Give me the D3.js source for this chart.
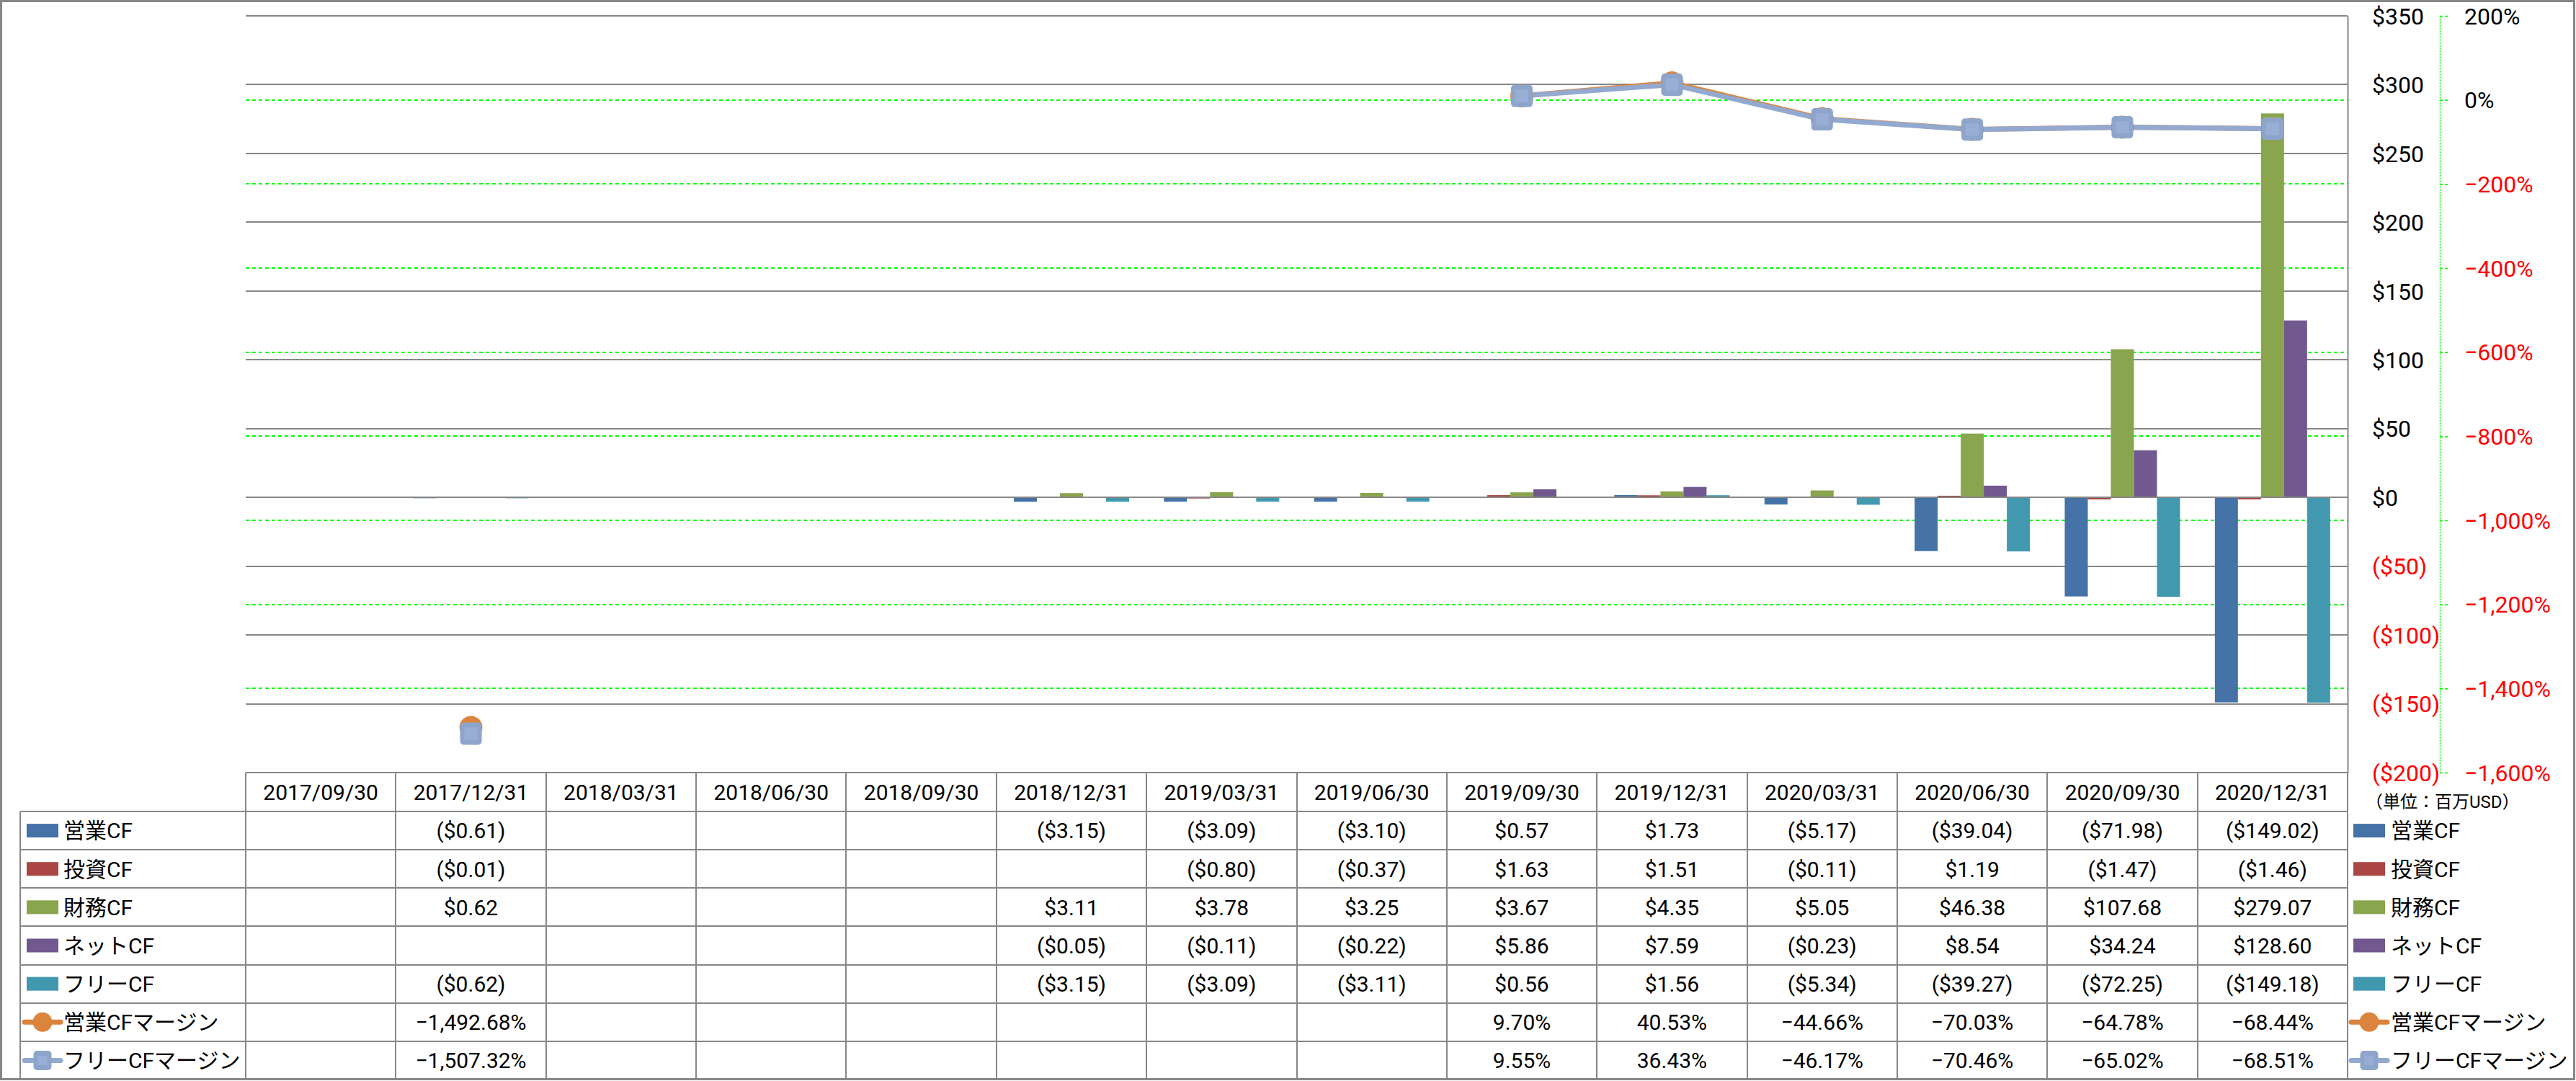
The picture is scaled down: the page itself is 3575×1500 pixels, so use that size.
<!DOCTYPE html>
<html>
<head>
<meta charset="utf-8">
<script src="https://cdn.jsdelivr.net/npm/d3@7"></script>
<style>
  html, body { margin: 0; padding: 0; background: #fff; }
  svg { display: block; }
  text { font-family: Roboto, "Noto Sans CJK JP", sans-serif; }
</style>
</head>
<body>
<svg id="chart" width="3575" height="1500"></svg>
<script>
// ---------------- DATA ----------------
const categories = ["2017/09/30","2017/12/31","2018/03/31","2018/06/30","2018/09/30","2018/12/31","2019/03/31","2019/06/30","2019/09/30","2019/12/31","2020/03/31","2020/06/30","2020/09/30","2020/12/31"];

const opCF   = [null, -0.61, null, null, null, -3.15, -3.09, -3.10, 0.57, 1.73, -5.17, -39.04, -71.98, -149.02];
const invCF  = [null, -0.01, null, null, null, null, -0.80, -0.37, 1.63, 1.51, -0.11, 1.19, -1.47, -1.46];
const finCF  = [null, 0.62, null, null, null, 3.11, 3.78, 3.25, 3.67, 4.35, 5.05, 46.38, 107.68, 279.07];
const netCF  = [null, null, null, null, null, -0.05, -0.11, -0.22, 5.86, 7.59, -0.23, 8.54, 34.24, 128.60];
const freeCF = [null, -0.62, null, null, null, -3.15, -3.09, -3.11, 0.56, 1.56, -5.34, -39.27, -72.25, -149.18];

const opMargin   = [null, -1492.68, null, null, null, null, null, null, 9.70, 40.53, -44.66, -70.03, -64.78, -68.44];
const freeMargin = [null, -1507.32, null, null, null, null, null, null, 9.55, 36.43, -46.17, -70.46, -65.02, -68.51];

const barSeriesNames  = ["営業CF", "投資CF", "財務CF", "ネットCF", "フリーCF"];
const barSeriesValues = [opCF, invCF, finCF, netCF, freeCF];
const barColors = ["#4572A7", "#AA4643", "#89A54E", "#71588F", "#4198AF"];

const lineSeriesNames  = ["営業CFマージン", "フリーCFマージン"];
const lineSeriesValues = [opMargin, freeMargin];
const lineColors = ["#DB843D", "#93A9CF"];

const leftTicks  = [350, 300, 250, 200, 150, 100, 50, 0, -50, -100, -150, -200];
const rightTicks = [200, 0, -200, -400, -600, -800, -1000, -1200, -1400, -1600];
const unitLabel = "（単位：百万USD）";

// ---------------- LAYOUT ----------------
const svg = d3.select("#chart");
const plotL = 341, plotR = 3258, plotT = 22, plotB = 1072;
const tableL = 28, tableB = 1498, headerB = 1126;
const nRows = barSeriesNames.length + lineSeriesNames.length;
const rowH = (tableB - headerB) / nRows;
const gridGray = "#878787";
const FONT = 30;

const y = d3.scaleLinear().domain([-200, 350]).range([plotB, plotT]);
const y2 = d3.scaleLinear().domain([-1600, 200]).range([plotB, plotT]);
const xCol = d3.scaleBand().domain(categories).range([plotL, plotR]);
const gap = 0.2321;
const x0 = d3.scaleBand().domain(categories).range([plotL, plotR]).paddingInner(gap).paddingOuter(gap / 2);
const x1 = d3.scaleBand().domain(d3.range(barSeriesNames.length)).range([0, x0.bandwidth()]);
const cx = c => xCol(c) + xCol.bandwidth() / 2;
const crisp = v => Math.round(v);

// outer chart border
svg.append("rect").attr("x", 1.5).attr("y", 1.5).attr("width", 3571).attr("height", 1496)
  .attr("fill", "#fff").attr("stroke", "#868686").attr("stroke-width", 3);

// green dashed gridlines (secondary axis)
svg.append("g").attr("shape-rendering", "crispEdges").selectAll("line").data(rightTicks).join("line")
  .attr("x1", plotL).attr("x2", plotR)
  .attr("y1", d => crisp(y2(d))).attr("y2", d => crisp(y2(d)))
  .attr("stroke", "#00FF00").attr("stroke-width", 2).attr("stroke-dasharray", "5,4");

// gray gridlines (primary axis)
svg.append("g").attr("shape-rendering", "crispEdges").selectAll("line").data(leftTicks).join("line")
  .attr("x1", plotL).attr("x2", plotR)
  .attr("y1", d => crisp(y(d))).attr("y2", d => crisp(y(d)))
  .attr("stroke", gridGray).attr("stroke-width", 2);

// bars
const barG = svg.append("g");
barSeriesValues.forEach((vals, si) => {
  barG.append("g").selectAll("rect")
    .data(categories.map((c, i) => ({ c, v: vals[i] })).filter(d => d.v != null))
    .join("rect")
    .attr("x", d => x0(d.c) + x1(si))
    .attr("width", x1.bandwidth())
    .attr("y", d => y(Math.max(0, d.v)))
    .attr("height", d => Math.abs(y(d.v) - y(0)))
    .attr("fill", barColors[si]);
});

// zero axis line on top of bars
svg.append("line").attr("shape-rendering", "crispEdges")
  .attr("x1", plotL).attr("x2", plotR).attr("y1", crisp(y(0))).attr("y2", crisp(y(0)))
  .attr("stroke", gridGray).attr("stroke-width", 2);

// primary axis (labels only, right side)
const fmtMoneyTick = v => v < 0 ? "($" + Math.abs(v) + ")" : "$" + v;
const axL = svg.append("g").attr("transform", `translate(${plotR},0)`)
  .call(d3.axisRight(y).tickValues(leftTicks).tickSize(0).tickPadding(34).tickFormat(fmtMoneyTick));
axL.select(".domain").attr("stroke", gridGray).attr("stroke-width", 2);
axL.selectAll("text").attr("font-size", 32).attr("font-family", "Roboto, sans-serif")
  .attr("fill", d => d < 0 ? "#FF0000" : "#000").attr("text-anchor", "start").attr("dy", "0.35em");

// secondary axis
const fmtPctTick = v => d3.format(",")(v) + "%";
const axR = svg.append("g").attr("transform", "translate(3386,0)")
  .call(d3.axisRight(y2).tickValues(rightTicks).tickSize(12).tickSizeOuter(0).tickPadding(22).tickFormat(fmtPctTick));
axR.select(".domain").attr("stroke", "#00FF00").attr("stroke-width", 1.6).attr("stroke-dasharray", "2,2");
axR.selectAll(".tick line").attr("stroke", "#00FF00").attr("stroke-width", 1.6).attr("stroke-dasharray", "4,3");
axR.selectAll("text").attr("font-size", 32).attr("font-family", "Roboto, sans-serif")
  .attr("fill", d => d < 0 ? "#FF0000" : "#000").attr("text-anchor", "start").attr("dy", "0.35em");

// marker drawing helpers
function drawCircleMarker(g, x, yy, r) {
  g.append("circle").attr("cx", x).attr("cy", yy).attr("r", r).attr("fill", "#DB843D");
}
function drawSquareMarker(g, x, yy, w, h) {
  g.append("rect").attr("x", x - w / 2).attr("y", yy - h / 2).attr("width", w).attr("height", h)
    .attr("rx", 5).attr("fill", "#8EA5CB");
  g.append("rect").attr("x", x - w / 2 + 6).attr("y", yy - h / 2 + 7).attr("width", w - 12).attr("height", h - 14)
    .attr("fill", "#98AED5");
}

// lines
const lineG = svg.append("g");
lineSeriesValues.forEach((vals, si) => {
  const pts = categories.map((c, i) => ({ c, v: vals[i] }));
  const line = d3.line().defined(d => d.v != null).x(d => cx(d.c)).y(d => y2(d.v));
  lineG.append("path").datum(pts).attr("d", line)
    .attr("fill", "none").attr("stroke", lineColors[si]).attr("stroke-width", 7)
    .attr("stroke-linejoin", "round").attr("stroke-linecap", "round");
});
lineSeriesValues.forEach((vals, si) => {
  const mg = lineG.append("g");
  categories.forEach((c, i) => {
    if (vals[i] == null) return;
    if (si === 0) drawCircleMarker(mg, cx(c), y2(vals[i]), 16);
    else drawSquareMarker(mg, cx(c), y2(vals[i]), 30, 31);
  });
});

// ---------------- DATA TABLE ----------------
const tg = svg.append("g");
const rowY = i => headerB + i * rowH;
// horizontal lines
d3.range(nRows + 1).forEach(i => {
  tg.append("line").attr("shape-rendering", "crispEdges")
    .attr("x1", tableL).attr("x2", plotR).attr("y1", crisp(rowY(i))).attr("y2", crisp(rowY(i)))
    .attr("stroke", gridGray).attr("stroke-width", 2);
});
// vertical lines
tg.append("line").attr("shape-rendering", "crispEdges")
  .attr("x1", tableL).attr("x2", tableL).attr("y1", headerB).attr("y2", tableB)
  .attr("stroke", gridGray).attr("stroke-width", 2);
categories.concat([null]).forEach((c) => {
  const xx = crisp(c == null ? plotR : xCol(c));
  tg.append("line").attr("shape-rendering", "crispEdges")
    .attr("x1", xx).attr("x2", xx).attr("y1", plotB).attr("y2", tableB)
    .attr("stroke", gridGray).attr("stroke-width", 2);
});
// header
tg.selectAll("text.hdr").data(categories).join("text").attr("class", "hdr")
  .attr("x", d => cx(d)).attr("y", (plotB + headerB) / 2).attr("dy", "0.36em")
  .attr("text-anchor", "middle").attr("font-size", FONT).attr("fill", "#000").text(d => d);

const fmtMoney = v => v < 0 ? "($" + Math.abs(v).toFixed(2) + ")" : "$" + v.toFixed(2);
const fmtPct = v => d3.format(",.2f")(v) + "%";

const allRows = barSeriesNames.map((n, i) => ({ name: n, vals: barSeriesValues[i], fmt: fmtMoney, type: "bar", color: barColors[i] }))
  .concat(lineSeriesNames.map((n, i) => ({ name: n, vals: lineSeriesValues[i], fmt: fmtPct, type: "line", idx: i, color: lineColors[i] })));

function drawKey(g, row, xL, xR, yc) {
  if (row.type === "bar") {
    g.append("rect").attr("x", xL + 3).attr("y", yc - 9.5).attr("width", xR - xL - 6).attr("height", 19).attr("fill", row.color);
  } else {
    g.append("line").attr("x1", xL).attr("x2", xR).attr("y1", yc).attr("y2", yc)
      .attr("stroke", row.color).attr("stroke-width", 7).attr("stroke-linecap", "round");
    const mx = (xL + xR) / 2;
    if (row.idx === 0) drawCircleMarker(g, mx, yc, 13.5);
    else drawSquareMarker(g, mx, yc, 25, 27);
  }
}

allRows.forEach((row, ri) => {
  const yc = rowY(ri) + rowH / 2;
  // left labels
  drawKey(tg, row, 34, 84, yc);
  tg.append("text").attr("x", 88).attr("y", yc).attr("dy", "0.36em").attr("font-size", FONT)
    .attr("fill", "#000").text(row.name);
  // values
  categories.forEach((c, i) => {
    const v = row.vals[i];
    if (v == null) return;
    tg.append("text").attr("x", cx(c)).attr("y", yc).attr("dy", "0.36em").attr("text-anchor", "middle")
      .attr("font-size", FONT).attr("fill", "#000").text(row.fmt(v));
  });
  // right legend
  drawKey(tg, row, 3263, 3313, yc);
  tg.append("text").attr("x", 3318).attr("y", yc).attr("dy", "0.36em").attr("font-size", FONT)
    .attr("fill", "#000").text(row.name);
});

// unit label
svg.append("text").attr("x", 3283).attr("y", 1112).attr("dy", "0.36em")
  .attr("font-family", "'Noto Sans CJK JP', sans-serif").attr("font-size", 24).attr("fill", "#000")
  .text(unitLabel);
</script>
</body>
</html>
